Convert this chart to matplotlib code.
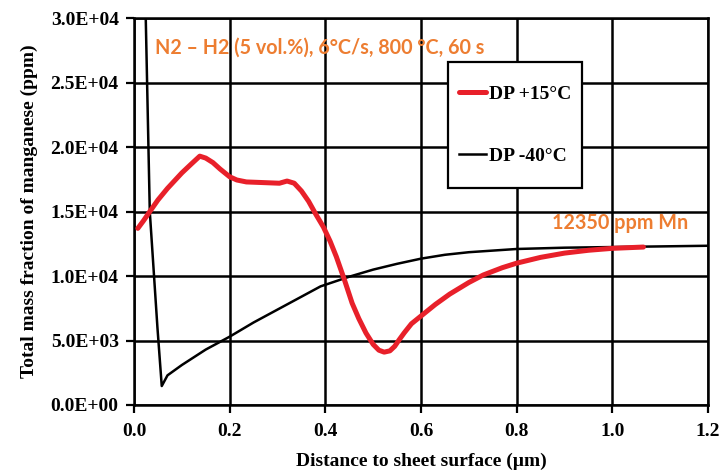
import matplotlib
matplotlib.use("Agg")
import matplotlib.pyplot as plt
from matplotlib.patches import Rectangle
from matplotlib.ticker import FuncFormatter

# %%
# Mn depth profiles
x_wet = [0.008, 0.02, 0.033, 0.05, 0.07, 0.1, 0.12, 0.1375, 0.15, 0.165, 0.18, 0.2,
         0.215, 0.235, 0.27, 0.304, 0.32, 0.335, 0.35, 0.365, 0.38, 0.396, 0.41,
         0.423, 0.44, 0.456, 0.47, 0.485, 0.5, 0.512, 0.523, 0.535, 0.545, 0.554,
         0.565, 0.58, 0.6, 0.63, 0.66, 0.7, 0.73, 0.77, 0.8, 0.85, 0.9, 0.95, 1.0,
         1.065]
mn_wet = [13700, 14300, 15000, 15900, 16800, 18000, 18700, 19300, 19150, 18800, 18300,
          17700, 17450, 17300, 17250, 17200, 17370, 17200, 16600, 15800, 14800, 13800,
          12700, 11500, 9700, 7900, 6700, 5580, 4700, 4250, 4100, 4200, 4550, 5040,
          5600, 6300, 6900, 7800, 8600, 9500, 10080, 10650, 11000, 11450, 11780, 12000,
          12150, 12250]

x_dry = [0.024, 0.033, 0.049, 0.058, 0.07, 0.1, 0.15, 0.2, 0.25, 0.3, 0.35, 0.39,
         0.45, 0.5, 0.55, 0.6, 0.65, 0.7, 0.8, 0.9, 1.0, 1.1, 1.2]
mn_dry = [31000, 15000, 6000, 1470, 2300, 3100, 4300, 5300, 6400, 7400, 8400, 9200,
          9950, 10500, 10950, 11350, 11650, 11850, 12100, 12200, 12250, 12300, 12350]

labels = ["DP +15°C", "DP -40°C"]
x_ticks = [0.0, 0.2, 0.4, 0.6, 0.8, 1.0, 1.2]
y_ticks = [0, 5000, 10000, 15000, 20000, 25000, 30000]

serif = "Liberation Serif"
orange = "#ED7D31"

fig = plt.figure(figsize=(7.22, 4.70), dpi=100)
ax = fig.add_axes([0.1856, 0.1383, 0.795, 0.823])

ax.plot(x_wet, mn_wet, color="#E8202A", lw=3.6, solid_joinstyle="round",
        solid_capstyle="round", label=labels[0], zorder=4)
ax.plot(x_dry, mn_dry, color="black", lw=1.8, label=labels[1], zorder=3)

ax.set_xlim(0, 1.2)
ax.set_ylim(0, 30000)
ax.set_xticks(x_ticks)
ax.set_yticks(y_ticks)
ax.xaxis.set_major_formatter(FuncFormatter(lambda v, p: f"{v:.1f}"))
ax.yaxis.set_major_formatter(FuncFormatter(lambda v, p: f"{v:.1E}"))
ax.grid(True, color="black", lw=1.8)
ax.set_axisbelow(True)
for s in ax.spines.values():
    s.set_linewidth(1.8)
ax.tick_params(direction="out", length=6, width=1.6)
ax.tick_params(axis="y", pad=5)
ax.tick_params(axis="x", pad=7)
for t in ax.get_xticklabels() + ax.get_yticklabels():
    t.set_fontfamily(serif)
    t.set_fontweight("bold")
    t.set_fontsize(14)

ax.set_xlabel("Distance to sheet surface (µm)", fontfamily=serif, fontweight="bold",
              fontsize=14, labelpad=9)
ax.set_ylabel("Total mass fraction of manganese (ppm)", fontfamily=serif,
              fontweight="bold", fontsize=14, labelpad=9)

ax.text(0.044, 27750, "N2 – H2 (5 vol.%), 6°C/s, 800 °C, 60 s", color=orange,
        fontfamily="Lato", fontweight="bold", fontsize=14.2, va="center", zorder=6)
ax.text(0.874, 14110, "12350 ppm Mn", color=orange, fontfamily="Lato",
        fontweight="bold", fontsize=14.2, va="center", zorder=6)

# legend box (taller than matplotlib's uniform padding gives)
ax.add_patch(Rectangle((0.547, 0.561), 0.233, 0.325, transform=ax.transAxes,
                       facecolor="white", edgecolor="black", lw=1.6, zorder=5))
leg = ax.legend(loc="center", bbox_to_anchor=(0.664, 0.7235), frameon=False,
                handlelength=1.35, handletextpad=0.15, labelspacing=2.3,
                borderpad=0, borderaxespad=0,
                prop={"family": serif, "weight": "bold", "size": 14})
leg.set_zorder(6)

fig.savefig("out.png", dpi=100)
